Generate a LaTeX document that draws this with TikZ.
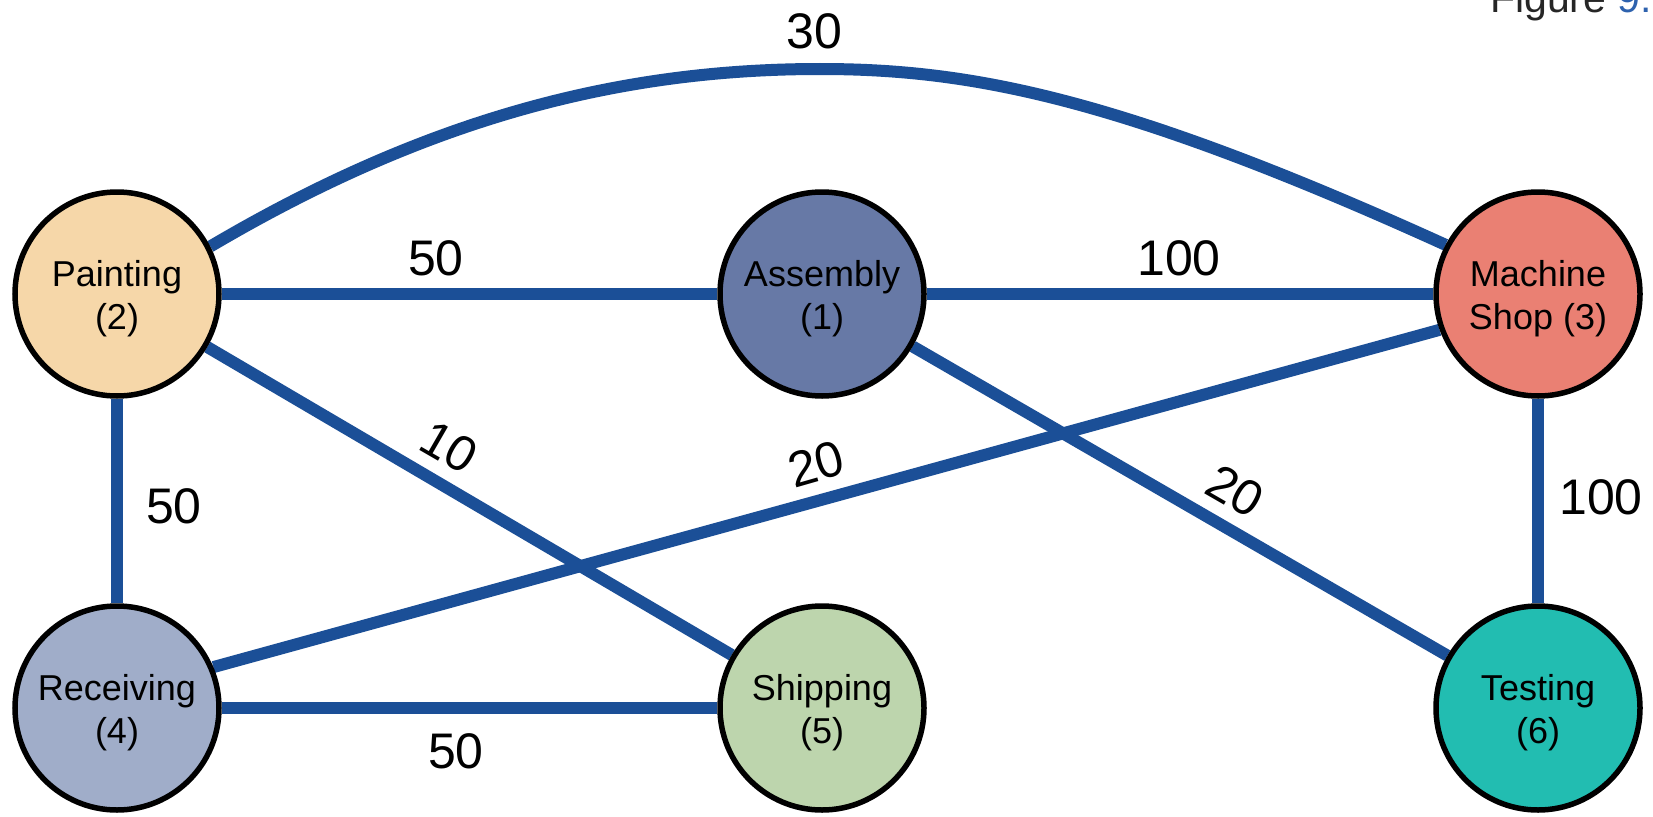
\documentclass[tikz,border=0pt]{standalone}
\usepackage{fontspec}
\setmainfont{Liberation Sans}
\definecolor{edgeblue}{HTML}{1B4F97}
\definecolor{figblue}{HTML}{2E62AE}
\definecolor{cPaint}{HTML}{F6D7A9}
\definecolor{cAssem}{HTML}{6779A6}
\definecolor{cMach}{HTML}{EA8073}
\definecolor{cRecv}{HTML}{A0ADC9}
\definecolor{cShip}{HTML}{BDD5AD}
\definecolor{cTest}{HTML}{22BDB1}
\pgfdeclarelayer{paper}
\pgfdeclarelayer{background}
\pgfsetlayers{paper,background,main}
\tikzset{
  dept/.style={circle, draw=black, line width=5.5pt, minimum size=204pt,
    inner sep=0pt},
  dtext/.style={align=center, font=\fontsize{36}{43}\selectfont,
    inner sep=0pt, yshift=-5pt},
  flow/.style={draw=edgeblue, line width=12pt},
  wt/.style={font=\fontsize{50}{50}\selectfont, inner sep=0pt}
}
\begin{document}
\begin{tikzpicture}[x=1pt, y=-1pt]
\useasboundingbox (0,0) rectangle (1653,816);
\begin{pgfonlayer}{paper}
\fill[white] (0,0) rectangle (1653,816);
\end{pgfonlayer}

% departments
\node[dept, fill=cPaint, label={[dtext]center:Painting\\(2)}]   (p) at (117,294) {};
\node[dept, fill=cAssem, label={[dtext]center:Assembly\\(1)}]   (a) at (822,294) {};
\node[dept, fill=cMach,  label={[dtext]center:Machine\\Shop (3)}] (m) at (1538,294) {};
\node[dept, fill=cRecv,  label={[dtext]center:Receiving\\(4)}]  (r) at (117,708) {};
\node[dept, fill=cShip,  label={[dtext]center:Shipping\\(5)}]   (s) at (822,708) {};
\node[dept, fill=cTest,  label={[dtext]center:Testing\\(6)}]    (t) at (1538,708) {};

% flows between departments, kept behind the circles
\coordinate (top) at (820,69);
\begin{pgfonlayer}{background}
\draw[flow] (p.27) .. controls (428,118) and (620,69) .. (top)
                   .. controls (970,69) and (1120,97) .. (m.152);
\draw[flow] (p) -- (a);
\draw[flow] (a) -- (m);
\draw[flow] (p) -- (s);
\draw[flow] (p) -- (r);
\draw[flow] (r.23) -- (m.200);
\draw[flow] (a) -- (t);
\draw[flow] (m) -- (t);
\draw[flow] (r) -- (s);
\end{pgfonlayer}

% flow weights
\node[wt] (w30)  at (814,31)  {30};
\node[wt] (w50a) at (436,258) {50};
\node[wt] (w100a) at (1179,258) {100};
\node[wt, rotate=-30] (w10) at (449,447) {10};
\node[wt, rotate=16] (w20a) at (816,464) {20};
\node[wt, rotate=-30] (w20b) at (1235,491) {20};
\node[wt] (w50b) at (174,506) {50};
\node[wt] (w100b) at (1601,497) {100};
\node[wt] (w50c) at (456,751) {50};

% caption fragment
\node[anchor=base west, inner sep=0pt, font=\fontsize{41}{41}\selectfont, text=black!85] (cap) at (1490,13) {Figure \textcolor{figblue}{9.}};
\end{tikzpicture}
\end{document}
